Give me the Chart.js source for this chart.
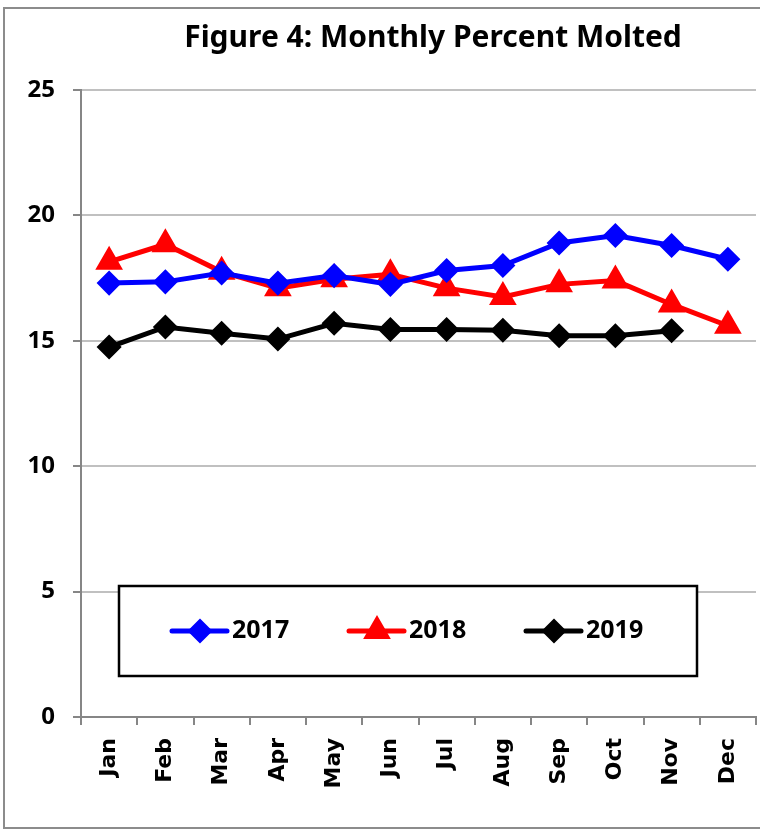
<!DOCTYPE html>
<html>
<head>
<meta charset="utf-8">
<script src="https://cdn.jsdelivr.net/npm/chart.js@4"></script>
<style>
  html, body { margin: 0; padding: 0; background: #fff; overflow: hidden; width: 760px; height: 834px; }
  #wrap { position: absolute; left: 0; top: 0; width: 760px; height: 834px; }
  #frame { position: absolute; left: 3px; top: 7px; width: 757px; height: 822px; border: 2px solid #8c8c8c; border-right: none; box-sizing: border-box; pointer-events: none; }
</style>
</head>
<body>
<div id="wrap"><canvas id="chart" width="760" height="834"></canvas></div>
<div id="frame"></div>
<script>
const months = ['Jan', 'Feb', 'Mar', 'Apr', 'May', 'Jun', 'Jul', 'Aug', 'Sep', 'Oct', 'Nov', 'Dec'];
const yearLabels = ['2017', '2018', '2019'];
const molted2017 = [17.3, 17.35, 17.7, 17.3, 17.6, 17.25, 17.8, 18.0, 18.9, 19.2, 18.8, 18.25];
const molted2018 = [18.15, 18.85, 17.75, 17.1, 17.45, 17.65, 17.1, 16.75, 17.25, 17.4, 16.45, 15.6];
const molted2019 = [14.75, 15.55, 15.3, 15.07, 15.7, 15.45, 15.45, 15.42, 15.2, 15.2, 15.4, null];
const yTicks = [0, 5, 10, 15, 20, 25];
const titleText = 'Figure 4: Monthly Percent Molted';

const font = '"Noto Sans", sans-serif';

// title placed a little right of centre, as in the original
const titleDraw = {
  id: 'titleDraw',
  afterDraw(chart) {
    const ctx = chart.ctx;
    ctx.save();
    ctx.fillStyle = '#000';
    ctx.font = 'bold 30px ' + font;
    ctx.textAlign = 'center';
    ctx.textBaseline = 'middle';
    ctx.fillText(titleText, 433, 38);
    ctx.restore();
  }
};

// legend drawn inside the plot, boxed like the original
const boxLegend = {
  id: 'boxLegend',
  beforeDatasetsDraw(chart) {
    const ctx = chart.ctx;
    const left = 119, top = 586, right = 697, bottom = 676;
    ctx.save();
    ctx.fillStyle = '#fff';
    ctx.fillRect(left, top, right - left, bottom - top);
    ctx.lineWidth = 2.5;
    ctx.strokeStyle = '#000';
    ctx.strokeRect(left, top, right - left, bottom - top);
    const cy = 631;
    chart.data.datasets.forEach((ds, i) => {
      const x0 = left + 53 + i * 177;
      ctx.strokeStyle = ds.borderColor;
      ctx.lineWidth = 5;
      ctx.lineCap = 'round';
      ctx.beginPath();
      ctx.moveTo(x0, cy);
      ctx.lineTo(x0 + 55, cy);
      ctx.stroke();
      ctx.fillStyle = ds.borderColor;
      Chart.helpers.drawPoint(ctx, {
        pointStyle: ds.pointStyle,
        radius: ds.pointRadius,
        rotation: 0,
        borderWidth: 1
      }, x0 + 28, cy);
      ctx.fillStyle = '#000';
      ctx.font = 'bold 25px ' + font;
      ctx.textBaseline = 'middle';
      ctx.textAlign = 'left';
      ctx.fillText(ds.label, x0 + 60, cy);
    });
    ctx.restore();
  }
};

function series(label, data, color, style, radius) {
  return {
    label: label,
    data: data,
    borderColor: color,
    backgroundColor: color,
    pointBackgroundColor: color,
    pointBorderColor: color,
    borderWidth: 5,
    pointStyle: style,
    pointRadius: radius,
    pointHoverRadius: radius,
    tension: 0,
    spanGaps: false
  };
}

new Chart(document.getElementById('chart'), {
  type: 'line',
  data: {
    labels: months,
    datasets: [
      series(yearLabels[0], molted2017, '#0000ff', 'rectRot', 9),
      series(yearLabels[1], molted2018, '#ff0000', 'triangle', 11),
      series(yearLabels[2], molted2019, '#000000', 'rectRot', 9)
    ]
  },
  options: {
    responsive: false,
    animation: false,
    layout: { autoPadding: false, padding: { left: 0, right: 4, top: 90, bottom: 0 } },
    scales: {
      x: {
        offset: true,
        grid: {
          offset: true,
          drawOnChartArea: false,
          drawTicks: true,
          tickLength: 8,
          color: '#868686',
          lineWidth: 2
        },
        border: { color: '#868686', width: 2 },
        ticks: {
          minRotation: 90,
          maxRotation: 90,
          padding: 13,
          color: '#000',
          font: { family: 'DejaVu Sans', weight: 'bold', size: 22 }
        },
        afterFit(scale) {
          scale.height = 117;
          scale.paddingLeft = 0;
          scale.paddingRight = 0;
        }
      },
      y: {
        min: 0,
        max: 25,
        afterBuildTicks(scale) { scale.ticks = yTicks.map(v => ({ value: v })); },
        grid: {
          color: '#c0c0c0',
          lineWidth: 2,
          drawTicks: true,
          tickLength: 8,
          tickColor: '#868686'
        },
        border: { color: '#868686', width: 2 },
        ticks: {
          padding: 18,
          color: '#000',
          font: { family: font, weight: 'bold', size: 24 }
        },
        afterFit(scale) {
          scale.width = 81;
          scale.paddingTop = 0;
          scale.paddingBottom = 0;
        }
      }
    },
    plugins: {
      legend: { display: false },
      tooltip: { enabled: false },
      title: { display: false }
    }
  },
  plugins: [boxLegend, titleDraw]
});
</script>
</body>
</html>
